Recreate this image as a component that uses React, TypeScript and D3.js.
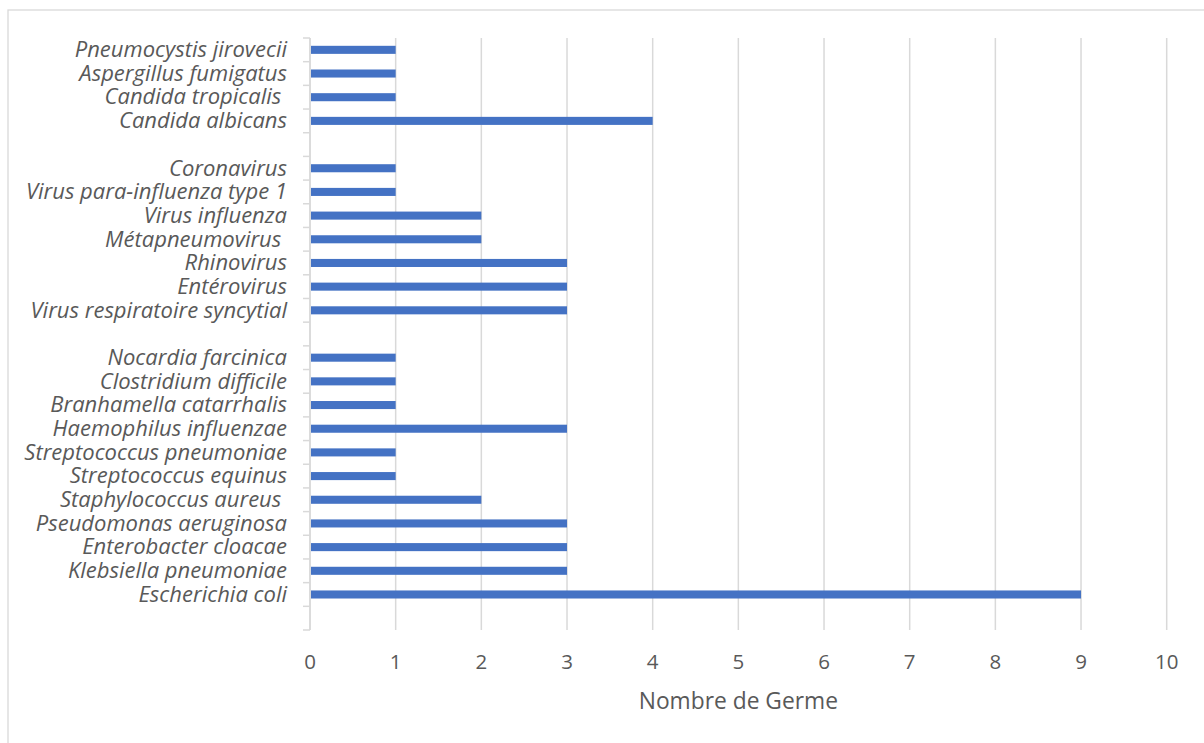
import React from "react";
import * as d3 from "d3";

// Categories listed top to bottom; empty strings are the blank separator rows
const categories: string[] = [
  "Pneumocystis jirovecii",
  "Aspergillus fumigatus",
  "Candida tropicalis ",
  "Candida albicans",
  "",
  "Coronavirus",
  "Virus para-influenza type 1",
  "Virus influenza",
  "Métapneumovirus ",
  "Rhinovirus",
  "Entérovirus",
  "Virus respiratoire syncytial",
  "",
  "Nocardia farcinica",
  "Clostridium difficile",
  "Branhamella catarrhalis",
  "Haemophilus influenzae",
  "Streptococcus pneumoniae",
  "Streptococcus equinus",
  "Staphylococcus aureus ",
  "Pseudomonas aeruginosa",
  "Enterobacter cloacae",
  "Klebsiella pneumoniae",
  "Escherichia coli",
  "",
];

const values: (number | null)[] = [
  1, 1, 1, 4,
  null,
  1, 1, 2, 2, 3, 3, 3,
  null,
  1, 1, 1, 3, 1, 1, 2, 3, 3, 3, 9,
  null,
];

const xTicks: number[] = [0, 1, 2, 3, 4, 5, 6, 7, 8, 9, 10];
const xTitle = "Nombre de Germe";

const W = 1204;
const H = 743;
const plot = { left: 310, right: 1166.7, top: 38, bottom: 630 };
const FONT = "'Open Sans', sans-serif";

export default function App() {
  const idx = categories.map((_, i) => String(i));
  const x = d3.scaleLinear().domain([0, 10]).range([plot.left, plot.right]);
  const y = d3
    .scaleBand<string>()
    .domain(idx)
    .range([plot.top, plot.bottom])
    .paddingInner(0.66)
    .paddingOuter(0.33);
  const step = y.step();
  const boundaries = d3.range(categories.length + 1).map((i) => plot.top + i * step);

  return (
    <svg
      width={W}
      height={H}
      style={{ position: "absolute", left: 0, top: 0, background: "#fff" }}
      fontFamily={FONT}
    >
      <rect x={8} y={10} width={W + 10} height={H + 10} fill="#fff" stroke="#d9d9d9" strokeWidth={1.3} />
      {xTicks.map((t) => (
        <line
          key={"g" + t}
          x1={x(t)}
          x2={x(t)}
          y1={plot.top}
          y2={plot.bottom}
          stroke="#d9d9d9"
          strokeWidth={1.5}
        />
      ))}
      <line x1={plot.left} x2={plot.left} y1={plot.top} y2={plot.bottom} stroke="#d9d9d9" strokeWidth={1.5} />
      {boundaries.map((b, i) => (
        <line key={"t" + i} x1={plot.left - 7} x2={plot.left} y1={b} y2={b} stroke="#d9d9d9" strokeWidth={1.5} />
      ))}
      {categories.map((c, i) =>
        values[i] == null ? null : (
          <rect
            key={"b" + i}
            x={x(0) + 1}
            y={y(String(i))!}
            width={x(values[i] as number) - x(0) - 1}
            height={y.bandwidth()}
            fill="#4472c4"
          />
        )
      )}
      {categories.map((c, i) => (
        <text
          key={"l" + i}
          x={plot.left - 23}
          y={(y(String(i)) as number) + y.bandwidth() / 2}
          dy="0.33em"
          textAnchor="end"
          fontStyle="italic"
          fontSize={22}
          fill="#595959"
          style={{ whiteSpace: "pre" }}
        >
          {c}
        </text>
      ))}
      {xTicks.map((t) => (
        <text key={"x" + t} x={x(t)} y={662} dy="0.35em" textAnchor="middle" fontSize={20.5} fill="#595959">
          {t}
        </text>
      ))}
      <text x={(plot.left + plot.right) / 2} y={701} dy="0.35em" textAnchor="middle" fontSize={22.8} fill="#595959">
        {xTitle}
      </text>
    </svg>
  );
}
